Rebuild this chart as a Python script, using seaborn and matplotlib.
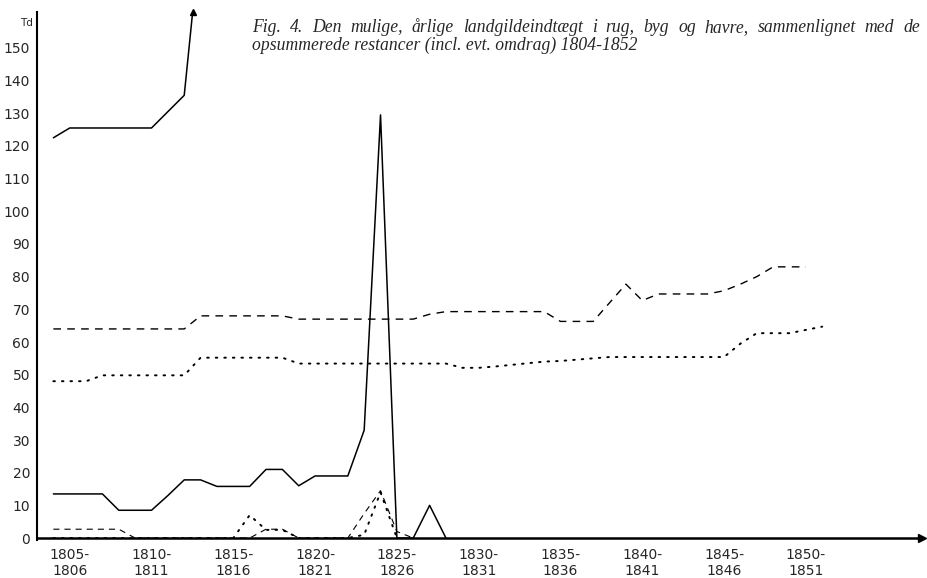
import matplotlib
matplotlib.use("Agg")
import matplotlib.pyplot as plt
import seaborn as sns
import numpy as np

# fuldt optrukket, oeverst (gaar ud af diagrammet efter 1812)
fuld_top_aar = [1804, 1805, 1806, 1807, 1808, 1809, 1810, 1811, 1812, 1813]
fuld_top = [122.5, 125.5, 125.5, 125.5, 125.5, 125.5, 125.5, 130.5, 135.5, 185]

# fuldt optrukket, nederst
fuld_lav_aar = list(range(1804, 1829))
fuld_lav = [13.5, 13.5, 13.5, 13.5, 8.5, 8.5, 8.5, 13, 17.8, 17.8,
            15.8, 15.8, 15.8, 21, 21, 16, 19, 19, 19, 33,
            129.5, 0, 0, 10, 0]

# stiplet
stiplet_aar = list(range(1804, 1851))
stiplet = [64, 64, 64, 64, 64, 64, 64, 64, 64,
           68, 68, 68, 68, 68, 68,
           67, 67, 67, 67, 67, 67, 67, 67,
           68.5,
           69.3, 69.3, 69.3, 69.3, 69.3, 69.3, 69.3,
           66.3, 66.3, 66.3,
           72, 77.7, 72.7,
           74.7, 74.7, 74.7, 74.7,
           75.7, 77.7, 80,
           83, 83, 83]

# prikket
prikket_aar = list(range(1804, 1852))
prikket = [48, 48, 48,
           49.8, 49.8, 49.8, 49.8, 49.8, 49.8,
           55.2, 55.2, 55.2, 55.2, 55.2, 55.2,
           53.4, 53.4, 53.4, 53.4, 53.4, 53.4, 53.4, 53.4, 53.4, 53.4,
           52.1, 52.1,
           52.5, 53, 53.5, 54, 54.2, 54.6, 55,
           55.4, 55.4, 55.4, 55.4, 55.4, 55.4, 55.4, 55.4,
           59.5, 62.7, 62.7, 62.7, 63.7, 64.7]

# restancer naer nul
stiplet_rest_aar = list(range(1804, 1827))
stiplet_rest = [2.7, 2.7, 2.7, 2.7, 2.7, 0, 0, 0, 0, 0, 0, 0, 0,
                2.7, 2.7, 0, 0, 0, 0, 7.5, 14.5, 2, 0]
prikket_rest_aar = list(range(1804, 1826))
prikket_rest = [0, 0, 0, 0, 0, 0, 0, 0, 0, 0, 0, 0,
                7, 2.5, 2.5, 0, 0, 0, 0, 1, 14, 0]

x_ticks = [1805, 1810, 1815, 1820, 1825, 1830, 1835, 1840, 1845, 1850]
x_labels = ["1805-\n1806", "1810-\n1811", "1815-\n1816", "1820-\n1821", "1825-\n1826",
            "1830-\n1831", "1835-\n1836", "1840-\n1841", "1845-\n1846", "1850-\n1851"]
y_ticks = list(range(0, 151, 10))

titel_1 = "Fig. 4. Den mulige, årlige landgildeindtægt i rug, byg og havre, sammenlignet med de"
titel_2 = "opsummerede restancer (incl. evt. omdrag) 1804-1852"

sns.set_style("white")
plt.rcParams['font.family'] = ['DejaVu Sans']

fig = plt.figure(figsize=(9.28, 5.78), dpi=100)
ax = fig.add_axes([37 / 928, 38 / 578, 885 / 928, 528 / 578])

dash = (0, (5.5, 4.5))
dot = (0, (0.8, 3.6))

sns.lineplot(x=fuld_top_aar, y=fuld_top, ax=ax, color="black", linewidth=1.1)
sns.lineplot(x=fuld_lav_aar, y=fuld_lav, ax=ax, color="black", linewidth=1.1)
sns.lineplot(x=stiplet_aar, y=stiplet, ax=ax, color="black", linewidth=1.0, linestyle=dash)
sns.lineplot(x=prikket_aar, y=prikket, ax=ax, color="black", linewidth=1.4, linestyle=dot,
             dash_capstyle="round")
sns.lineplot(x=stiplet_rest_aar, y=stiplet_rest, ax=ax, color="black", linewidth=0.8, linestyle=dash)
sns.lineplot(x=prikket_rest_aar, y=prikket_rest, ax=ax, color="black", linewidth=1.4, linestyle=dot,
             dash_capstyle="round")

ymax = 161
ax.set_xlim(1803, 1857.1)
ax.set_ylim(-0.6, ymax)

# pil hvor den oeverste kurve forlader diagrammet
x0, x1 = fuld_top_aar[-2], fuld_top_aar[-1]
y0, y1 = fuld_top[-2], fuld_top[-1]
x_ud = x0 + (ymax - y0) * (x1 - x0) / (y1 - y0)
ax.plot(x_ud, ymax, marker="^", color="black", markersize=5, clip_on=False)

sns.despine(ax=ax, top=True, right=True)
ax.spines["bottom"].set_position(("data", 0))
ax.spines["left"].set_linewidth(1.5)
ax.spines["bottom"].set_linewidth(1.8)
ax.spines["left"].set_color("black")
ax.spines["bottom"].set_color("black")
ax.plot(1, 0, ">k", transform=ax.get_yaxis_transform(), clip_on=False, markersize=6)
ax.plot(0, 1, "^k", transform=ax.get_xaxis_transform(), clip_on=False, markersize=6)

ax.set_xticks(x_ticks)
ax.set_xticklabels(x_labels, fontsize=10)
ax.set_xticks(range(1804, 1853), minor=True)
ax.set_yticks(y_ticks)
ax.set_yticklabels([str(v) for v in y_ticks], fontsize=10)
ax.tick_params(axis="both", which="major", direction="inout", length=4, width=1.2, color="black", pad=3)
ax.tick_params(axis="x", which="minor", direction="inout", length=2, width=0.8, color="black")
ax.tick_params(axis="x", which="major", pad=5)
ax.set_xlabel("")
ax.set_ylabel("")

fig.text(27 / 928, 1 - 23 / 578, "Td", fontsize=7.5, ha="center", va="center")

# titel: foerste linje udfyldt (justeret) mellem x=252 og x=920
titel_kw = dict(fontsize=12.7, fontstyle="italic", family="Liberation Serif", va="baseline")
renderer = fig.canvas.get_renderer()
ord_ = titel_1.split()
tekster = [fig.text(0, 1 - 32 / 578, w, **titel_kw) for w in ord_]
bredder = [t.get_window_extent(renderer).width for t in tekster]
venstre, hoejre = 252, 920
mellemrum = (hoejre - venstre - sum(bredder)) / (len(ord_) - 1)
x = venstre
for t, b in zip(tekster, bredder):
    t.set_x(x / 928)
    x += b + mellemrum
fig.text(252 / 928, 1 - 50 / 578, titel_2, **titel_kw)

fig.savefig("out.png", dpi=100)
